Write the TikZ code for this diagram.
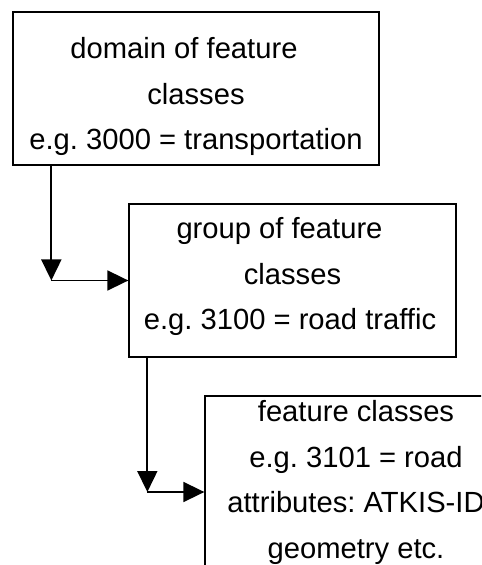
\documentclass[tikz,border=0pt]{standalone}
\usepackage{fontspec}
\setmainfont{Liberation Sans}
\usetikzlibrary{arrows.meta, positioning}
\tikzset{
    classbox/.style={draw, line width=0.75pt, inner sep=0pt}, % plain frame round each level
    boxtext/.style={align=center, inner sep=0pt, anchor=north,
        font=\fontsize{16.6}{25.9}\selectfont\frenchspacing}, % the lines written in a frame
    link/.style={-{Triangle[width=0.4cm, length=0.42cm]}, line width=1pt}, % arrows from one level down to the next
}

\begin{document}
\begin{tikzpicture}
    \useasboundingbox (0,0) rectangle (9.62,-11.30);
    \clip (0,0) rectangle (9.62,-11.30);

    % the three levels of the catalogue
    \node[classbox, minimum width=7.32cm, minimum height=3.06cm] (domain) at (3.92,-1.77) {};
    \node[classbox, minimum width=6.54cm, minimum height=3.06cm] (group) at (5.85,-5.61) {};
    \node[classbox, minimum width=6.04cm, minimum height=3.84cm] (feat) at (7.12,-9.84) {};

    \node[boxtext] (domaintext) at ([yshift=-0.52cm]domain.north)
        {domain of feature\hspace*{0.48cm}\\ classes\hspace*{0.48cm}\\ e.g. 3000 = transportation};
    \node[boxtext] (grouptext) at ([yshift=-0.28cm]group.north)
        {group of feature\hspace*{0.52cm}\\ classes\hspace*{0.72cm}\\ e.g. 3100 = road traffic\hspace*{0.1cm}};
    \node[boxtext] (feattext) at ([yshift=-0.1cm]feat.north)
        {feature classes\\ e.g. 3101 = road\\ attributes: ATKIS-ID\\ geometry etc.};

    % down, then across to the next frame
    \coordinate (turn1) at ([xshift=0.78cm]domain.south west |- group.west);
    \coordinate (turn2) at ([xshift=0.38cm]group.south west |- feat.west);
    \draw[link] ([xshift=0.78cm]domain.south west) -- (turn1);
    \draw[link] (turn1) -- (group.west);
    \draw[link] ([xshift=0.38cm]group.south west) -- (turn2);
    \draw[link] (turn2) -- (feat.west);
\end{tikzpicture}
\end{document}
